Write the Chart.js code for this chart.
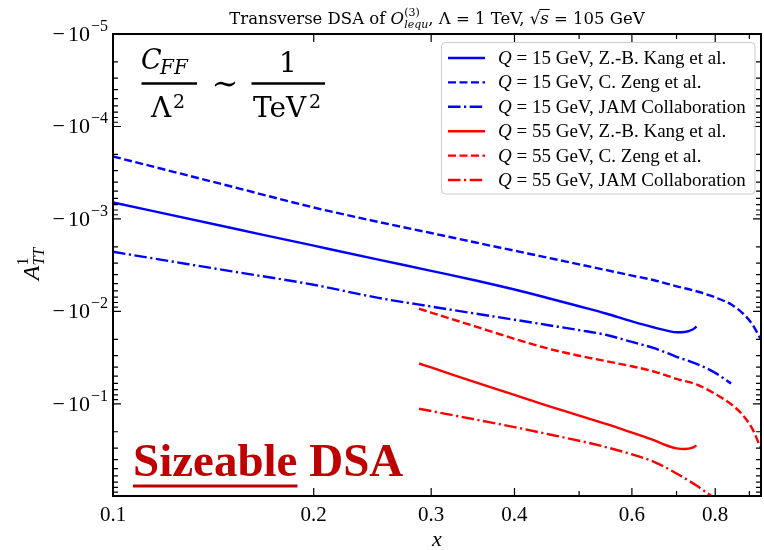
<!DOCTYPE html>
<html>
<head>
<meta charset="utf-8">
<script src="https://cdn.jsdelivr.net/npm/chart.js@4.4.1/dist/chart.umd.min.js"></script>
<style>
  html, body { margin: 0; padding: 0; background: #fff; }
  #wrap { width: 764px; height: 550px; }
</style>
</head>
<body>
<div id="wrap"><canvas id="dsaChart" width="764" height="550"></canvas></div>
<script>
// Transverse DSA curves, |A_TT^1| (all values are negative on the plot)
const xKang15 = [0.10, 0.15, 0.20, 0.25, 0.30, 0.35, 0.40, 0.45, 0.50, 0.55, 0.60, 0.65, 0.68, 0.70, 0.72, 0.74, 0.75];
const aKang15 = [6.64e-4, 1.245e-3, 1.945e-3, 2.748e-3, 3.639e-3, 4.624e-3, 5.794e-3, 7.194e-3, 8.79e-3, 1.059e-2, 1.279e-2, 1.50e-2, 1.622e-2, 1.679e-2, 1.667e-2, 1.567e-2, 1.455e-2];

const xZeng15 = [0.10, 0.15, 0.20, 0.25, 0.30, 0.35, 0.40, 0.45, 0.50, 0.55, 0.60, 0.65, 0.70, 0.75, 0.80, 0.85, 0.88, 0.91, 0.935];
const aZeng15 = [2.11e-4, 4.43e-4, 7.52e-4, 1.076e-3, 1.419e-3, 1.799e-3, 2.203e-3, 2.636e-3, 3.097e-3, 3.581e-3, 4.093e-3, 4.624e-3, 5.346e-3, 6.053e-3, 7.047e-3, 8.61e-3, 1.052e-2, 1.387e-2, 1.968e-2];

const xJam15 = [0.10, 0.15, 0.20, 0.25, 0.30, 0.35, 0.40, 0.45, 0.50, 0.55, 0.60, 0.65, 0.70, 0.75, 0.80, 0.845];
const aJam15 = [2.265e-3, 3.664e-3, 5.152e-3, 7.129e-3, 8.851e-3, 1.057e-2, 1.23e-2, 1.409e-2, 1.592e-2, 1.799e-2, 2.138e-2, 2.512e-2, 3.09e-2, 3.681e-2, 4.613e-2, 6.026e-2];

const xKang55 = [0.2877, 0.30, 0.35, 0.40, 0.45, 0.50, 0.55, 0.60, 0.65, 0.68, 0.70, 0.72, 0.74, 0.75];
const aKang55 = [3.656e-2, 4.036e-2, 5.848e-2, 7.998e-2, 0.1054, 0.1337, 0.1656, 0.2046, 0.250, 0.2851, 0.302, 0.307, 0.2965, 0.2818];

const xZeng55 = [0.2877, 0.30, 0.35, 0.40, 0.45, 0.50, 0.55, 0.60, 0.65, 0.70, 0.75, 0.80, 0.85, 0.88, 0.91, 0.935];
const aZeng55 = [9.354e-3, 1.028e-2, 1.459e-2, 1.977e-2, 2.529e-2, 3.013e-2, 3.459e-2, 3.917e-2, 4.498e-2, 5.358e-2, 6.152e-2, 7.798e-2, 0.104, 0.1321, 0.1875, 0.2944];

const xJam55 = [0.2877, 0.30, 0.35, 0.40, 0.45, 0.50, 0.55, 0.60, 0.65, 0.70, 0.75, 0.79, 0.82];
const aJam55 = [0.1127, 0.1194, 0.1479, 0.1782, 0.2128, 0.250, 0.2944, 0.3508, 0.4285, 0.5649, 0.7638, 0.9931, 1.202];

const legendLabels = [
    " = 15 GeV, Z.-B. Kang et al.",
    " = 15 GeV, C. Zeng et al.",
    " = 15 GeV, JAM Collaboration",
    " = 55 GeV, Z.-B. Kang et al.",
    " = 55 GeV, C. Zeng et al.",
    " = 55 GeV, JAM Collaboration"
];

// axis ticks
const xLabelTicks = [0.1, 0.2, 0.3, 0.4, 0.6, 0.8];
const xMinorTicks = [0.5, 0.7, 0.9];
const yDecades = [-5, -4, -3, -2, -1];

const SERIF = "'Liberation Serif', 'DejaVu Serif', serif";
const WIDE = "'DejaVu Serif', serif";
const BLUE = "#0000ff";
const RED = "#ff0000";
const DASH = [8, 3.5];
const DASHDOT = [12.5, 3.5, 2.2, 3.5];

function pts(xs, ys) {
    return xs.map((x, i) => ({ x: x, y: ys[i] }));
}

function line(label, xs, ys, color, dash) {
    return {
        label: label,
        data: pts(xs, ys),
        borderColor: color,
        borderWidth: 2.4,
        borderDash: dash,
        pointRadius: 0,
        fill: false,
        cubicInterpolationMode: "monotone"
    };
}

// draw text pieces one after the other, returns end x
function drawRuns(ctx, runs, x, y) {
    let cx = x;
    runs.forEach(r => {
        ctx.font = r.font;
        ctx.fillText(r.t, cx, y + (r.dy || 0));
        if (!r.stay) cx += ctx.measureText(r.t).width + (r.gap || 0);
    });
    return cx;
}

function runsWidth(ctx, runs) {
    let w = 0;
    runs.forEach(r => {
        ctx.font = r.font;
        if (!r.stay) w += ctx.measureText(r.t).width + (r.gap || 0);
    });
    return w;
}

const decorPlugin = {
    id: "decor",
    afterDatasetsDraw(chart) {
        const ctx = chart.ctx;
        const a = chart.chartArea;
        const xs = chart.scales.x;
        const ys = chart.scales.y;
        ctx.save();

        // ticks (inward, all four sides)
        ctx.strokeStyle = "#000";
        ctx.lineWidth = 1.2;
        const vTick = (px, len) => {
            ctx.beginPath();
            ctx.moveTo(px, a.bottom); ctx.lineTo(px, a.bottom - len);
            ctx.moveTo(px, a.top); ctx.lineTo(px, a.top + len);
            ctx.stroke();
        };
        const hTick = (py, len) => {
            ctx.beginPath();
            ctx.moveTo(a.left, py); ctx.lineTo(a.left + len, py);
            ctx.moveTo(a.right, py); ctx.lineTo(a.right - len, py);
            ctx.stroke();
        };
        xLabelTicks.forEach(v => vTick(xs.getPixelForValue(v), 8));
        xMinorTicks.forEach(v => vTick(xs.getPixelForValue(v), 5));
        yDecades.forEach(k => {
            hTick(ys.getPixelForValue(Math.pow(10, k)), 8);
            for (let m = 2; m <= 9; m++) {
                const v = m * Math.pow(10, k);
                if (v <= ys.max) hTick(ys.getPixelForValue(v), 5);
            }
        });

        // spines
        ctx.lineWidth = 2;
        ctx.strokeRect(a.left, a.top, a.right - a.left, a.bottom - a.top);

        // tick labels
        ctx.fillStyle = "#000";
        ctx.textBaseline = "alphabetic";
        ctx.textAlign = "center";
        ctx.font = "21px " + SERIF;
        xLabelTicks.forEach(v => {
            ctx.fillText(String(v), xs.getPixelForValue(v), 521);
        });
        ctx.textAlign = "left";
        yDecades.forEach(k => {
            const py = ys.getPixelForValue(Math.pow(10, k));
            const runs = [
                { t: "\u2212", font: "22px " + SERIF, gap: 3 },
                { t: "10", font: "22px " + SERIF, gap: 1 },
                { t: "\u2212" + Math.abs(k), font: "16px " + SERIF, dy: -10 }
            ];
            const w = runsWidth(ctx, runs);
            drawRuns(ctx, runs, 108 - w, py + 7);
        });

        // axis labels
        ctx.font = "italic 22px " + SERIF;
        ctx.textAlign = "center";
        ctx.fillText("x", (a.left + a.right) / 2, 546);
        ctx.save();
        ctx.translate(39, 264);
        ctx.rotate(-Math.PI / 2);
        ctx.textAlign = "left";
        const yl = [
            { t: "A", font: "italic 24px " + SERIF },
            { t: "1", font: "16px " + SERIF, dy: -11, stay: true },
            { t: "TT", font: "italic 16px " + SERIF, dy: 5 }
        ];
        drawRuns(ctx, yl, -runsWidth(ctx, yl) / 2, 0);
        ctx.restore();

        // title
        const tr = [
            { t: "Transverse DSA of ", font: "16.5px " + WIDE },
            { t: "O", font: "italic 16.5px " + WIDE },
            { t: "(3)", font: "11px " + WIDE, dy: -8, stay: true },
            { t: "lequ", font: "italic 11px " + WIDE, dy: 4 },
            { t: ", \u039B = 1 TeV, \u221A", font: "16.5px " + WIDE },
            { t: "s", font: "italic 16.5px " + WIDE },
            { t: " = 105 GeV", font: "16.5px " + WIDE }
        ];
        ctx.textAlign = "left";
        const tw = runsWidth(ctx, tr);
        const tx = (a.left + a.right) / 2 - tw / 2;
        drawRuns(ctx, tr, tx, 24);
        // overline of the square root
        const sx = tx + runsWidth(ctx, tr.slice(0, 5));
        ctx.font = "italic 16.5px " + WIDE;
        ctx.lineWidth = 1;
        ctx.beginPath();
        ctx.moveTo(sx - 1, 9.5);
        ctx.lineTo(sx + ctx.measureText("s").width + 1, 9.5);
        ctx.stroke();

        // legend
        const lx = 441.5, ly = 42.5, lw = 313.5, lh = 151.5;
        ctx.fillStyle = "rgba(255,255,255,0.85)";
        ctx.strokeStyle = "#cccccc";
        ctx.lineWidth = 1;
        ctx.beginPath();
        ctx.roundRect(lx, ly, lw, lh, 4);
        ctx.fill();
        ctx.stroke();
        chart.data.datasets.forEach((ds, i) => {
            const ry = 58 + i * 24.4;
            ctx.strokeStyle = ds.borderColor;
            ctx.lineWidth = ds.borderWidth;
            ctx.setLineDash(ds.borderDash || []);
            ctx.beginPath();
            ctx.moveTo(448, ry);
            ctx.lineTo(485, ry);
            ctx.stroke();
            ctx.setLineDash([]);
            ctx.fillStyle = "#000";
            drawRuns(ctx, [
                { t: "Q", font: "italic 19px " + SERIF },
                { t: legendLabels[i], font: "19px " + SERIF }
            ], 498, ry + 6);
        });

        // C_FF / Lambda^2 ~ 1 / TeV^2
        ctx.fillStyle = "#000";
        ctx.strokeStyle = "#000";
        ctx.lineWidth = 2.4;
        ctx.font = "italic 27px " + WIDE;
        ctx.fillText("C", 141, 69);
        ctx.font = "italic 20px " + WIDE;
        ctx.fillText("FF", 160, 74);
        ctx.beginPath();
        ctx.moveTo(141.5, 83.5); ctx.lineTo(197, 83.5);
        ctx.moveTo(251.5, 83.5); ctx.lineTo(325, 83.5);
        ctx.stroke();
        ctx.font = "28px " + WIDE;
        ctx.fillText("\u039B", 151, 117);
        ctx.font = "19px " + WIDE;
        ctx.fillText("2", 173, 108);
        ctx.font = "32px " + WIDE;
        ctx.textAlign = "center";
        ctx.fillText("\u223C", 225, 94);
        ctx.font = "28px " + WIDE;
        ctx.fillText("1", 288, 72);
        ctx.textAlign = "left";
        ctx.fillText("TeV", 253, 117);
        ctx.font = "19px " + WIDE;
        ctx.fillText("2", 309, 108);

        // Sizeable DSA
        ctx.fillStyle = "#c00000";
        ctx.strokeStyle = "#c00000";
        ctx.font = "bold 47px " + SERIF;
        ctx.fillText("Sizeable DSA", 133, 476);
        const sw = ctx.measureText("Sizeable").width;
        ctx.lineWidth = 3;
        ctx.beginPath();
        ctx.moveTo(133, 486);
        ctx.lineTo(133 + sw, 486);
        ctx.stroke();

        ctx.restore();
    }
};

new Chart(document.getElementById("dsaChart"), {
    type: "line",
    data: {
        datasets: [
            line("Q=15 Kang", xKang15, aKang15, BLUE, []),
            line("Q=15 Zeng", xZeng15, aZeng15, BLUE, DASH),
            line("Q=15 JAM", xJam15, aJam15, BLUE, DASHDOT),
            line("Q=55 Kang", xKang55, aKang55, RED, []),
            line("Q=55 Zeng", xZeng55, aZeng55, RED, DASH),
            line("Q=55 JAM", xJam55, aJam55, RED, DASHDOT)
        ]
    },
    options: {
        responsive: false,
        animation: false,
        devicePixelRatio: 1,
        layout: { padding: { top: 34, right: 3, left: 0, bottom: 0 } },
        plugins: {
            legend: { display: false },
            tooltip: { enabled: false },
            title: { display: false }
        },
        scales: {
            x: {
                type: "logarithmic",
                min: 0.1,
                max: 0.937,
                grid: { display: false },
                border: { display: false },
                ticks: { display: false },
                afterFit: s => { s.height = 54; }
            },
            y: {
                type: "logarithmic",
                reverse: true,
                min: 1e-5,
                max: 0.99,
                grid: { display: false },
                border: { display: false },
                ticks: { display: false },
                afterFit: s => { s.width = 113; }
            }
        }
    },
    plugins: [decorPlugin]
});
</script>
</body>
</html>
